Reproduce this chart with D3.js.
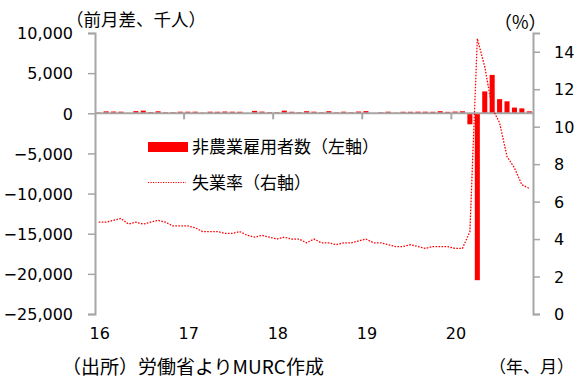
<!DOCTYPE html>
<html>
<head>
<meta charset="utf-8">
<script src="https://cdn.jsdelivr.net/npm/d3@7"></script>
<style>
  html, body { margin: 0; padding: 0; background: #fff; }
  svg { display: block; }
  .num { font-family: "DejaVu Sans", sans-serif; font-size: 16px; fill: #000; }
  .jp { font-family: "Noto Sans CJK JP", sans-serif; font-size: 17px; fill: #000; }
</style>
</head>
<body>
<svg id="chart" width="577" height="378"></svg>
<script>
// Monthly series, Jan 2016 – Nov 2020
const years = ["16", "17", "18", "19", "20"];

// Nonfarm payroll change, thousands (left axis)
const payrolls = [
  80, 240, 220, 200, 40, 270, 330, 150, 250, 120, 130, 200,
  200, 200, 80, 200, 190, 220, 200, 190, 20, 300, 210, 130,
  120, 330, 190, 130, 260, 200, 120, 260, 110, 200, 120, 220,
  270, 10, 120, 200, 70, 190, 190, 200, 200, 190, 260, 180,
  214, 251, -1373, -20787, 2725, 4781, 1761, 1493, 711, 610, 245
];

// Unemployment rate, % (right axis)
const unemployment = [
  4.9, 4.9, 5.0, 5.1, 4.8, 4.9, 4.8, 4.9, 5.0, 4.9, 4.7, 4.7,
  4.7, 4.6, 4.4, 4.4, 4.4, 4.3, 4.3, 4.4, 4.2, 4.1, 4.2, 4.1,
  4.0, 4.1, 4.0, 4.0, 3.8, 4.0, 3.8, 3.8, 3.7, 3.8, 3.8, 3.9,
  4.0, 3.8, 3.8, 3.7, 3.6, 3.6, 3.7, 3.6, 3.5, 3.6, 3.6, 3.6,
  3.5, 3.5, 4.4, 14.7, 13.2, 11.0, 10.2, 8.4, 7.8, 6.9, 6.7
];

const leftTicks = [10000, 5000, 0, -5000, -10000, -15000, -20000, -25000];
const rightTicks = [0, 2, 4, 6, 8, 10, 12, 14];

const months = payrolls.map((_, i) => i);

const svg = d3.select("#chart");
const plot = { left: 95, right: 533, top: 33, bottom: 314 };
const axisColor = "#a6a6a6";
const red = "#ff0000";

const x = d3.scaleBand().domain(months).range([plot.left, plot.right]).paddingInner(0.32).paddingOuter(0.16);
const step = x.step();
const xc = i => x(i) + x.bandwidth() / 2;

const yL = d3.scaleLinear().domain([-25000, 10000]).range([plot.bottom, plot.top]);
const yR = d3.scaleLinear().domain([0, 15]).range([plot.bottom, plot.top]);

// Bars
svg.append("g").selectAll("rect").data(payrolls).join("rect")
  .attr("x", (d, i) => x(i))
  .attr("width", x.bandwidth())
  .attr("y", d => yL(Math.max(0, d)))
  .attr("height", d => Math.abs(yL(d) - yL(0)))
  .attr("fill", red);

// Left axis
const leftAxis = d3.axisLeft(yL).tickValues(leftTicks).tickSize(7).tickFormat(d3.format(","));
const gL = svg.append("g").attr("transform", `translate(${plot.left},0)`).call(leftAxis);
gL.select(".domain").attr("stroke", axisColor).attr("stroke-width", 2);
gL.selectAll(".tick line").attr("stroke", axisColor).attr("stroke-width", 1.5);
gL.selectAll(".tick text").attr("class", "num").attr("x", -22).attr("dy", "0.36em");

// Right axis
const rightAxis = d3.axisRight(yR).tickValues(rightTicks).tickSize(7);
const gR = svg.append("g").attr("transform", `translate(${plot.right},0)`).call(rightAxis);
gR.select(".domain").attr("stroke", axisColor).attr("stroke-width", 2);
gR.selectAll(".tick line").attr("stroke", axisColor).attr("stroke-width", 1.5);
gR.selectAll(".tick text").attr("class", "num").attr("x", 21).attr("dy", "0.36em");

// Category axis along zero
const zeroY = yL(0);
svg.append("line")
  .attr("x1", plot.left).attr("x2", plot.right)
  .attr("y1", zeroY).attr("y2", zeroY)
  .attr("stroke", axisColor).attr("stroke-width", 2);
const yearBounds = years.map((_, k) => plot.left + k * 12 * step).filter((v, k) => k > 0);
svg.append("g").selectAll("line").data(yearBounds).join("line")
  .attr("x1", d => d).attr("x2", d => d)
  .attr("y1", zeroY).attr("y2", zeroY + 6)
  .attr("stroke", axisColor).attr("stroke-width", 2);

// Year labels under the plot, on each January
svg.append("g").selectAll("text").data(years).join("text")
  .attr("class", "num")
  .attr("x", (d, k) => xc(k * 12) + 1)
  .attr("y", 339)
  .attr("text-anchor", "middle")
  .text(d => d);

// Unemployment rate line
const line = d3.line().x((d, i) => xc(i)).y(d => yR(d));
svg.append("path")
  .datum(unemployment)
  .attr("d", line)
  .attr("fill", "none")
  .attr("stroke", red)
  .attr("stroke-width", 1.3)
  .attr("stroke-dasharray", "1.6 1.4");

// Legend
svg.append("rect").attr("x", 148).attr("y", 142).attr("width", 40).attr("height", 10).attr("fill", red);
svg.append("text").attr("class", "jp").attr("x", 192).attr("y", 153).text("非農業雇用者数（左軸）");
svg.append("line").attr("x1", 148).attr("x2", 186).attr("y1", 182.5).attr("y2", 182.5)
  .attr("stroke", red).attr("stroke-width", 1.2).attr("stroke-dasharray", "1.2 1.3");
svg.append("text").attr("class", "jp").attr("x", 192).attr("y", 189).text("失業率（右軸）");

// Axis titles and notes
svg.append("text").attr("class", "jp").attr("x", 66).attr("y", 26).style("font-size", "17.5px").text("（前月差、千人）");
svg.append("text").attr("class", "jp").attr("x", 494).attr("y", 29).style("font-size", "18px").text("（%）");
svg.append("text").attr("class", "jp").attr("x", 62).attr("y", 374).style("font-size", "19px").text("（出所）労働省よりMURC作成");
svg.append("text").attr("class", "jp").attr("x", 574).attr("y", 373).attr("text-anchor", "end").text("（年、月）");
</script>
</body>
</html>
